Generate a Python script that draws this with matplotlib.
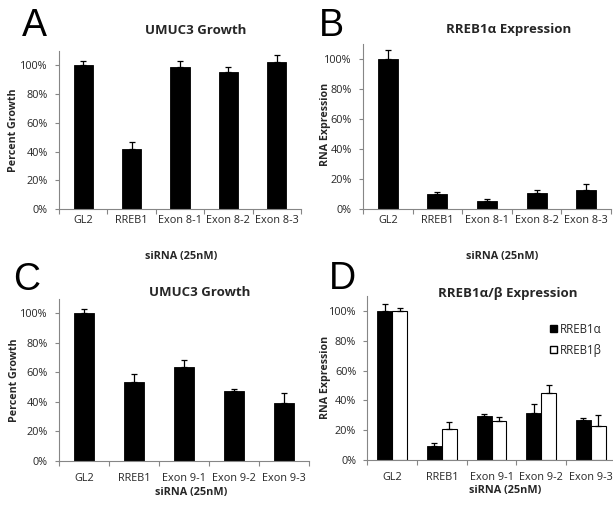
import numpy as np
import matplotlib
matplotlib.use("Agg")
import matplotlib.pyplot as plt
from matplotlib.ticker import PercentFormatter, FixedLocator, NullFormatter
from matplotlib.patches import Patch

plt.rcParams['font.family'] = ['Open Sans', 'DejaVu Sans']

# data (percent)
labels_8 = ['GL2', 'RREB1', 'Exon 8-1', 'Exon 8-2', 'Exon 8-3']
labels_9 = ['GL2', 'RREB1', 'Exon 9-1', 'Exon 9-2', 'Exon 9-3']

growth_8 = [100, 42, 99, 95.5, 102.5]
growth_8_err = [3, 4.7, 4, 3.5, 4.5]

alpha_8 = [100, 9.8, 5.5, 11, 13]
alpha_8_err = [6, 1.3, 1, 1.4, 4]

growth_9 = [100, 53.3, 63.5, 47.5, 39]
growth_9_err = [2.7, 5.3, 5, 1.4, 7.3]

alpha_9 = [100, 9.6, 29.8, 31.8, 27]
alpha_9_err = [4.2, 2.2, 1.4, 5.6, 1.3]
beta_9 = [100, 20.9, 26, 44.8, 22.7]
beta_9_err = [2, 4.9, 3.2, 5.8, 7.3]

W, H = 613, 516
fig = plt.figure(figsize=(W / 100, H / 100), dpi=100)
fig.patch.set_facecolor('white')

TXT = '#262626'
AXC = '#868686'


def px_axes(l, t, r, b):
    return fig.add_axes([l / W, 1 - b / H, (r - l) / W, (b - t) / H])


def px_text(x, y, s, **kw):
    fig.text(x / W, 1 - y / H, s, ha='center', va='center', color=TXT, **kw)


def style(ax, cats, xpad):
    n = len(cats)
    ax.set_xlim(-0.5, n - 0.5)
    ax.set_ylim(0, 110)
    ax.set_yticks(np.arange(0, 101, 20))
    ax.yaxis.set_major_formatter(PercentFormatter(100, decimals=0))
    ax.xaxis.set_major_locator(FixedLocator(np.arange(-0.5, n, 1)))
    ax.xaxis.set_major_formatter(NullFormatter())
    ax.set_xticks(np.arange(n), minor=True)
    ax.set_xticklabels(cats, minor=True)
    ax.tick_params(axis='x', which='minor', length=0, pad=xpad, labelsize=7.8, labelcolor=TXT)
    ax.tick_params(axis='x', which='major', length=3.5, color=AXC, width=0.8)
    ax.tick_params(axis='y', length=3, color=AXC, width=0.8, pad=5, labelsize=7.8, labelcolor=TXT)
    for s in ['top', 'right']:
        ax.spines[s].set_visible(False)
    for s in ['left', 'bottom']:
        ax.spines[s].set_color(AXC)
        ax.spines[s].set_linewidth(0.8)
    ax.patch.set_alpha(0)


def single(ax, vals, errs):
    x = np.arange(len(vals))
    ax.bar(x, vals, width=0.4, color='black', edgecolor='black', linewidth=0.6, zorder=2)
    ax.errorbar(x, vals, yerr=[np.zeros(len(vals)), errs], fmt='none', ecolor='black',
                elinewidth=0.9, capsize=2.5, capthick=0.9, zorder=3)


# A
axA = px_axes(59, 51, 301, 209)
single(axA, growth_8, growth_8_err)
style(axA, labels_8, 4)

# B
axB = px_axes(363, 44, 611, 209)
single(axB, alpha_8, alpha_8_err)
style(axB, labels_8, 4)

# C
axC = px_axes(59, 298.5, 309, 461)
single(axC, growth_9, growth_9_err)
style(axC, labels_9, 8.5)

# D
axD = px_axes(367.3, 295.7, 615.8, 460.3)
x = np.arange(len(alpha_9))
bw = 0.3
axD.bar(x - bw / 2, alpha_9, width=bw, color='black', edgecolor='black', linewidth=0.6, zorder=2)
axD.bar(x + bw / 2, beta_9, width=bw, color='white', edgecolor='black', linewidth=0.8, zorder=2)
axD.errorbar(x - bw / 2, alpha_9, yerr=[np.zeros(5), alpha_9_err], fmt='none', ecolor='black',
             elinewidth=0.9, capsize=2.5, capthick=0.9, zorder=3)
axD.errorbar(x + bw / 2, beta_9, yerr=[np.zeros(5), beta_9_err], fmt='none', ecolor='black',
             elinewidth=0.9, capsize=2.5, capthick=0.9, zorder=3)
style(axD, labels_9, 8.5)
handles = [Patch(facecolor='black', edgecolor='black', label='RREB1α'),
           Patch(facecolor='white', edgecolor='black', label='RREB1β')]
axD.legend(handles=handles, loc='upper left', bbox_to_anchor=(544 / W, 1 - 317 / H),
           bbox_transform=fig.transFigure, frameon=False, fontsize=8.3,
           handlelength=0.6, handleheight=0.6, handletextpad=0.25, labelspacing=0.7,
           borderpad=0, labelcolor=TXT)

# titles
px_text(196, 31, 'UMUC3 Growth', fontsize=9.5, fontweight='bold')
px_text(509, 29, 'RREB1α Expression', fontsize=9.5, fontweight='bold')
px_text(200, 292, 'UMUC3 Growth', fontsize=9.5, fontweight='bold')
px_text(508, 293, 'RREB1α/β Expression', fontsize=9.5, fontweight='bold')

# axis labels
px_text(181, 256, 'siRNA (25nM)', fontsize=7.8, fontweight='bold')
px_text(502, 256, 'siRNA (25nM)', fontsize=7.8, fontweight='bold')
px_text(191, 492, 'siRNA (25nM)', fontsize=7.8, fontweight='bold')
px_text(505, 491, 'siRNA (25nM)', fontsize=7.8, fontweight='bold')
px_text(14, 130, 'Percent Growth', fontsize=7.7, fontweight='bold', rotation=90)
px_text(326, 124, 'RNA Expression', fontsize=7.7, fontweight='bold', rotation=90)
px_text(15, 380, 'Percent Growth', fontsize=7.7, fontweight='bold', rotation=90)
px_text(326, 377, 'RNA Expression', fontsize=7.7, fontweight='bold', rotation=90)

# panel letters
for letter, (lx, ly) in zip('ABCD', [(34, 26), (331, 26), (27, 280), (342, 279)]):
    fig.text(lx / W, 1 - ly / H, letter, ha='center', va='center', fontsize=27,
             family='Liberation Sans', color='black')

fig.savefig('out.png', dpi=100)
